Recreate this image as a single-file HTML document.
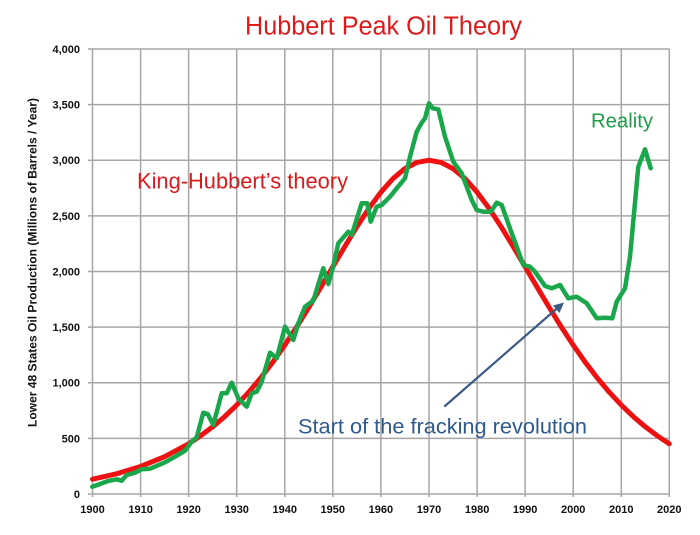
<!DOCTYPE html>
<html>
<head>
<meta charset="utf-8">
<style>
html,body{margin:0;padding:0;background:#fff;}
svg{display:block;}
text{font-family:"Liberation Sans",Arial,sans-serif;}
</style>
</head>
<body>
<svg width="700" height="535" viewBox="0 0 700 535" xmlns="http://www.w3.org/2000/svg">
<rect width="700" height="535" fill="#fff"/>
<!-- gridlines -->
<g stroke="#a6a6a6" stroke-width="1.5" fill="none">
<line x1="88" y1="49" x2="669.3" y2="49"/>
<line x1="88" y1="104.6" x2="669.3" y2="104.6"/>
<line x1="88" y1="160.25" x2="669.3" y2="160.25"/>
<line x1="88" y1="215.9" x2="669.3" y2="215.9"/>
<line x1="88" y1="271.5" x2="669.3" y2="271.5"/>
<line x1="88" y1="327.1" x2="669.3" y2="327.1"/>
<line x1="88" y1="382.75" x2="669.3" y2="382.75"/>
<line x1="88" y1="438.4" x2="669.3" y2="438.4"/>
<line x1="88" y1="494" x2="669.3" y2="494"/>
<line x1="92.5" y1="49" x2="92.5" y2="497"/>
<line x1="140.6" y1="49" x2="140.6" y2="497"/>
<line x1="188.6" y1="49" x2="188.6" y2="497"/>
<line x1="236.7" y1="49" x2="236.7" y2="497"/>
<line x1="284.8" y1="49" x2="284.8" y2="497"/>
<line x1="332.8" y1="49" x2="332.8" y2="497"/>
<line x1="380.9" y1="49" x2="380.9" y2="497"/>
<line x1="429" y1="49" x2="429" y2="497"/>
<line x1="477.1" y1="49" x2="477.1" y2="497"/>
<line x1="525.1" y1="49" x2="525.1" y2="497"/>
<line x1="573.2" y1="49" x2="573.2" y2="497"/>
<line x1="621.3" y1="49" x2="621.3" y2="497"/>
<line x1="669.3" y1="49" x2="669.3" y2="497"/>
</g>
<!-- y tick labels -->
<g font-size="11" font-weight="bold" fill="#111" text-anchor="end">
<text x="80" y="53">4,000</text>
<text x="80" y="108.6">3,500</text>
<text x="80" y="164.2">3,000</text>
<text x="80" y="219.9">2,500</text>
<text x="80" y="275.5">2,000</text>
<text x="80" y="331.1">1,500</text>
<text x="80" y="386.7">1,000</text>
<text x="80" y="442.4">500</text>
<text x="80" y="498">0</text>
</g>
<!-- x tick labels -->
<g font-size="11" font-weight="bold" fill="#111" text-anchor="middle">
<text x="92.5" y="513">1900</text>
<text x="140.6" y="513">1910</text>
<text x="188.6" y="513">1920</text>
<text x="236.7" y="513">1930</text>
<text x="284.8" y="513">1940</text>
<text x="332.8" y="513">1950</text>
<text x="380.9" y="513">1960</text>
<text x="429" y="513">1970</text>
<text x="477.1" y="513">1980</text>
<text x="525.1" y="513">1990</text>
<text x="573.2" y="513">2000</text>
<text x="621.3" y="513">2010</text>
<text x="669.3" y="513">2020</text>
</g>
<!-- y axis title -->
<text transform="translate(36.5,262.5) rotate(-90)" font-size="12" font-weight="bold" fill="#111" text-anchor="middle" textLength="329" lengthAdjust="spacingAndGlyphs">Lower 48 States Oil Production (Millions of Barrels / Year)</text>
<!-- title -->
<text x="245" y="34.3" font-size="25.5" fill="#dd1a1a" textLength="277" lengthAdjust="spacingAndGlyphs">Hubbert Peak Oil Theory</text>
<!-- red theory curve -->
<polyline fill="none" stroke="#ee1111" stroke-width="5" stroke-linejoin="round" stroke-linecap="round"
points="92.5,479.2 116.5,473.8 140.6,466.5 164.6,456.7 188.6,443.8 200.6,435.8 212.7,426.8 224.7,416.6 236.7,405.1 248.7,392.2 260.7,377.9 272.8,362.2 284.8,345.1 296.8,326.8 308.8,307.4 320.8,287.3 332.8,266.8 344.9,246.4 356.9,226.7 368.9,208.4 380.9,192.2 392.9,178.7 404.9,168.6 416.9,162.4 429,160.25 441,162.4 453,168.6 465.1,178.7 477.1,192.2 489.1,208.4 501.1,226.7 513.1,246.4 525.1,266.8 537.2,287.3 549.2,307.4 561.2,326.8 573.2,345.1 585.2,362.2 597.2,377.9 609.3,392.2 621.3,405.1 633.3,416.6 645.3,426.8 657.3,435.8 669.3,443.8"/>
<!-- green reality curve -->
<polyline fill="none" stroke="#1aa64a" stroke-width="4.5" stroke-linejoin="round" stroke-linecap="round"
points="92.3,486.7 100,484 108,481 116.7,479.3 121.7,480.7 126.7,475 135,472.7 141.7,469.3 150,468.7 165,462.3 175,456.7 185,450.7 191.7,441.7 196.7,437.3 203.3,412.7 207.7,414 213.3,425 221.7,393.3 226.7,393.3 231.7,382.7 238.3,398.3 246.7,406.7 251.7,393.3 256.7,391.7 261.7,381.7 270,352.7 276.7,358.3 285,326.7 293.3,340 298.3,323.3 305,306.7 313.3,300.7 323.3,268.3 328.3,284 333.3,266 338.3,243.3 348.3,231.7 351.7,235 361.7,203.3 367.3,203.3 370.7,221.7 376.7,206.7 381.7,205 390,196.7 396.7,188.3 405,178.3 410,156.7 416.7,131.7 421.7,122.7 425,118.3 429,103.3 432.7,108.3 438.3,109.3 445,136.7 453.3,161.7 461.7,173.3 471.7,200 476.7,210 483.3,211.7 490.7,211.7 496.7,202.7 501.7,205 511.7,233.3 516.7,246.7 523.3,265 530,266.7 535,271.7 545,286 551.7,288.3 560,285 568.3,298.3 576.7,296.7 586.7,303.3 596.7,318.3 605,317.7 612.3,318.3 616.7,301.7 625,288.3 630,256.7 638.3,166.7 645,149.3 650.7,168.3"/>
<!-- annotations -->
<text x="137" y="188.5" font-size="22" fill="#dd1a1a" textLength="211" lengthAdjust="spacingAndGlyphs">King-Hubbert’s theory</text>
<text x="591" y="127.5" font-size="20" fill="#1c9e48" textLength="62" lengthAdjust="spacingAndGlyphs">Reality</text>
<text x="298" y="433.5" font-size="21" fill="#2f5a8c" textLength="289" lengthAdjust="spacingAndGlyphs">Start of the fracking revolution</text>
<!-- arrow -->
<line x1="445" y1="406" x2="558" y2="307.5" stroke="#3b5a85" stroke-width="2.2" stroke-linecap="round"/>
<polygon points="564,302.5 553,305.5 559.5,313" fill="#3b5a85"/>
</svg>
</body>
</html>
